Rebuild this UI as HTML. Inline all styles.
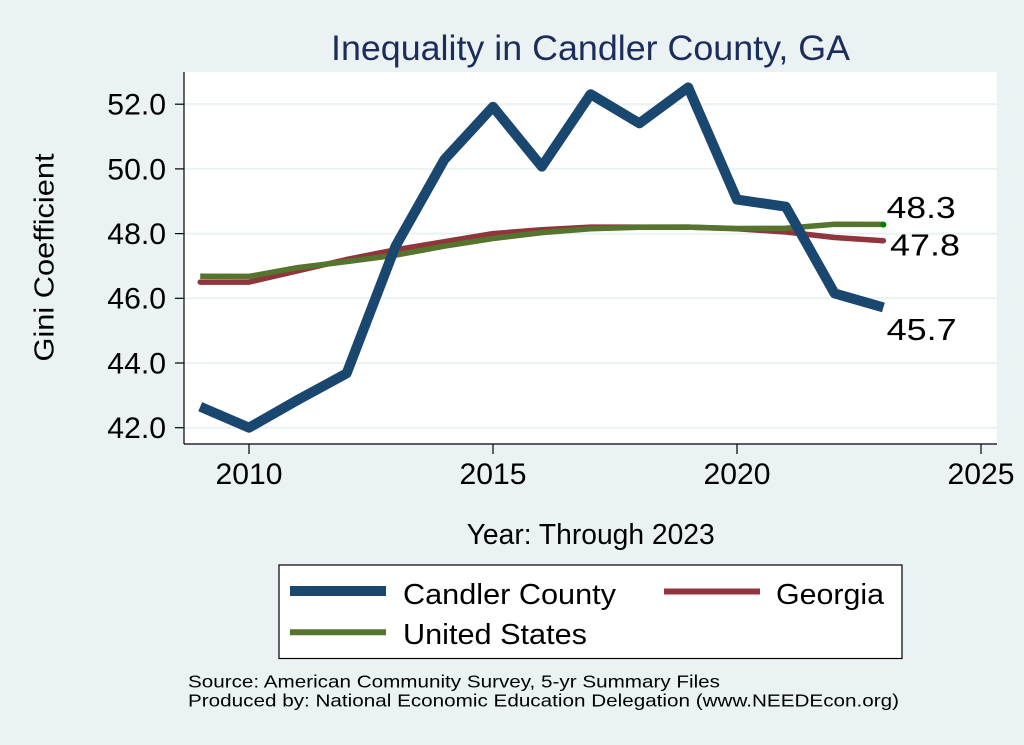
<!DOCTYPE html>
<html>
<head>
<meta charset="utf-8">
<style>
  html, body { margin:0; padding:0; background:#eaf2f3; }
  svg { display:block; }
  text { font-family: "Liberation Sans", Arial, sans-serif; }
</style>
</head>
<body>
<svg width="1024" height="745" viewBox="0 0 1024 745" xmlns="http://www.w3.org/2000/svg">
  <rect x="0" y="0" width="1024" height="745" fill="#eaf2f3"/>

  <!-- Title -->
  <text x="331" y="60" font-size="35" fill="#1c2d5c" textLength="519" lengthAdjust="spacingAndGlyphs">Inequality in Candler County, GA</text>

  <!-- Plot region -->
  <rect x="184" y="72" width="813" height="372" fill="#ffffff"/>

  <!-- Gridlines -->
  <g stroke="#eaf2f3" stroke-width="2">
    <line x1="184" y1="104.2" x2="997" y2="104.2"/>
    <line x1="184" y1="168.9" x2="997" y2="168.9"/>
    <line x1="184" y1="233.6" x2="997" y2="233.6"/>
    <line x1="184" y1="298.3" x2="997" y2="298.3"/>
    <line x1="184" y1="363.0" x2="997" y2="363.0"/>
    <line x1="184" y1="427.7" x2="997" y2="427.7"/>
  </g>

  <!-- Axes -->
  <g stroke="#000" stroke-width="1.2" fill="none">
    <line x1="184" y1="72" x2="184" y2="444"/>
    <line x1="184" y1="444" x2="997" y2="444"/>
    <line x1="175" y1="104.2" x2="184" y2="104.2"/>
    <line x1="175" y1="168.9" x2="184" y2="168.9"/>
    <line x1="175" y1="233.6" x2="184" y2="233.6"/>
    <line x1="175" y1="298.3" x2="184" y2="298.3"/>
    <line x1="175" y1="363.0" x2="184" y2="363.0"/>
    <line x1="175" y1="427.7" x2="184" y2="427.7"/>
    <line x1="249" y1="444" x2="249" y2="454"/>
    <line x1="493" y1="444" x2="493" y2="454"/>
    <line x1="737" y1="444" x2="737" y2="454"/>
    <line x1="981" y1="444" x2="981" y2="454"/>
  </g>

  <!-- Y tick labels -->
  <g font-size="29.5" fill="#000" text-anchor="end">
    <text x="166" y="114.6" textLength="58.7" lengthAdjust="spacingAndGlyphs">52.0</text>
    <text x="166" y="179.3" textLength="58.7" lengthAdjust="spacingAndGlyphs">50.0</text>
    <text x="166" y="244.0" textLength="58.7" lengthAdjust="spacingAndGlyphs">48.0</text>
    <text x="166" y="308.7" textLength="58.7" lengthAdjust="spacingAndGlyphs">46.0</text>
    <text x="166" y="373.4" textLength="58.7" lengthAdjust="spacingAndGlyphs">44.0</text>
    <text x="166" y="438.1" textLength="58.7" lengthAdjust="spacingAndGlyphs">42.0</text>
  </g>

  <!-- X tick labels -->
  <g font-size="30" fill="#000" text-anchor="middle">
    <text x="249" y="484" textLength="67" lengthAdjust="spacingAndGlyphs">2010</text>
    <text x="493" y="484" textLength="67" lengthAdjust="spacingAndGlyphs">2015</text>
    <text x="737" y="484" textLength="67" lengthAdjust="spacingAndGlyphs">2020</text>
    <text x="981" y="484" textLength="67" lengthAdjust="spacingAndGlyphs">2025</text>
  </g>

  <!-- Axis titles -->
  <text x="466.7" y="544" font-size="28.5" fill="#000" textLength="248" lengthAdjust="spacingAndGlyphs">Year: Through 2023</text>
  <text transform="translate(53.5,257.5) rotate(-90)" font-size="28" fill="#000" text-anchor="middle" textLength="208" lengthAdjust="spacingAndGlyphs">Gini Coefficient</text>

  <!-- Series: Georgia -->
  <polyline fill="none" stroke="#90353b" stroke-width="5.5" stroke-linejoin="round" stroke-linecap="round"
    points="200.2,282.1 249,282.1 297.8,270.8 346.6,259.5 395.4,249.8 444.2,241.7 493,233.6 541.8,229.7 590.6,227.1 639.4,227.1 688.2,227.1 737,228.7 785.8,232 834.6,237.5 883.4,240.7"/>
  <!-- Series: United States -->
  <polyline fill="none" stroke="#55752f" stroke-width="5.5" stroke-linejoin="round" stroke-linecap="butt"
    points="200.2,276.2 249,276.4 297.8,267.6 346.6,261.6 395.4,255.2 444.2,246.2 493,238.5 541.8,232.6 590.6,228.7 639.4,227.3 688.2,227.1 737,228.5 785.8,228.3 834.6,224.2 883.4,224.4"/>
  <circle cx="883.4" cy="224.6" r="3" fill="#008000"/>
  <!-- Series: Candler County -->
  <polyline fill="none" stroke="#1a476f" stroke-width="10" stroke-linejoin="round" stroke-linecap="butt"
    points="200.2,406.7 249,427.7 297.8,399.9 346.6,373.4 395.4,246.5 444.2,159.8 493,106.8 541.8,166.6 590.6,94.2 639.4,123.3 688.2,87.4 737,199.6 785.8,206.7 834.6,293.4 883.4,307.4"/>

  <!-- End labels -->
  <g font-size="31" fill="#000">
    <text x="886.7" y="218" textLength="69" lengthAdjust="spacingAndGlyphs">48.3</text>
    <text x="890" y="255.5" textLength="70" lengthAdjust="spacingAndGlyphs">47.8</text>
    <text x="886.7" y="340" textLength="70" lengthAdjust="spacingAndGlyphs">45.7</text>
  </g>

  <!-- Legend -->
  <rect x="279" y="565" width="623" height="93.5" fill="#ffffff" stroke="#000" stroke-width="1.2"/>
  <line x1="290" y1="591" x2="386" y2="591" stroke="#1a476f" stroke-width="10"/>
  <text x="403" y="604" font-size="28.5" fill="#000" textLength="213" lengthAdjust="spacingAndGlyphs">Candler County</text>
  <line x1="664" y1="591.5" x2="760" y2="591.5" stroke="#90353b" stroke-width="6"/>
  <text x="776" y="604" font-size="28.5" fill="#000" textLength="108" lengthAdjust="spacingAndGlyphs">Georgia</text>
  <line x1="290" y1="632.3" x2="386" y2="632.3" stroke="#55752f" stroke-width="6"/>
  <text x="403" y="644" font-size="28.5" fill="#000" textLength="184" lengthAdjust="spacingAndGlyphs">United States</text>

  <!-- Footnotes -->
  <text x="188" y="687.5" font-size="17.5" fill="#000" textLength="532" lengthAdjust="spacingAndGlyphs">Source: American Community Survey, 5-yr Summary Files</text>
  <text x="188" y="706.5" font-size="17.5" fill="#000" textLength="711" lengthAdjust="spacingAndGlyphs">Produced by: National Economic Education Delegation (www.NEEDEcon.org)</text>
</svg>
</body>
</html>
